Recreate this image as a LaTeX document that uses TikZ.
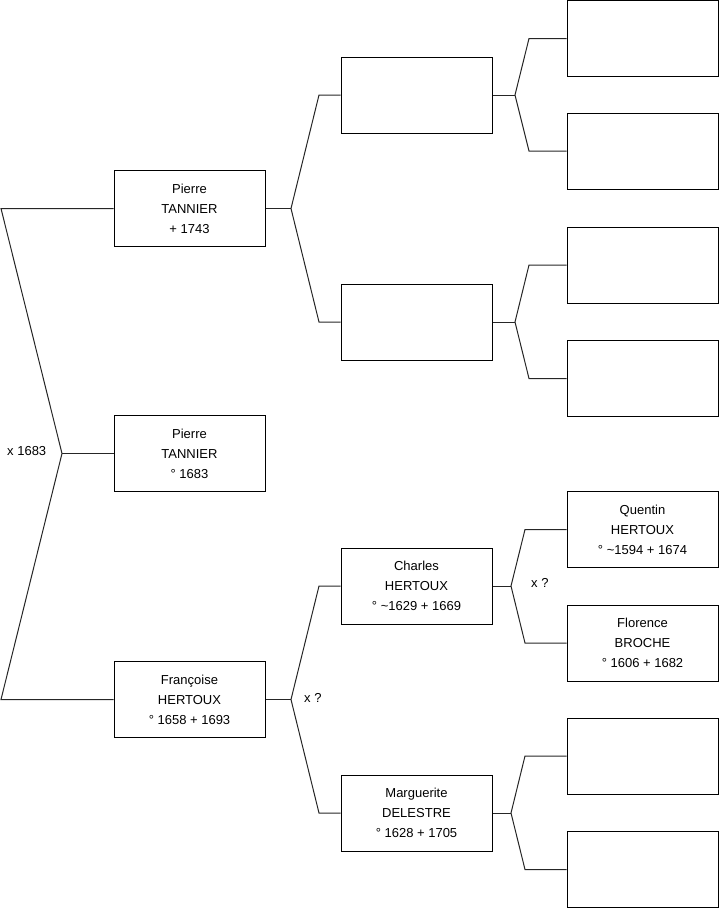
\documentclass[tikz,border=0pt]{standalone}
\usepackage{fontspec}
\setmainfont{Liberation Sans}
\begin{document}
\begin{tikzpicture}[x=1pt,y=-1pt,
  person/.style={draw=black,line width=1pt,rectangle,minimum width=151pt,minimum height=76pt,inner sep=0pt,align=center,font=\fontsize{13}{20}\selectfont},
  link/.style={draw=black!85,line width=1pt,line join=miter},
  lbl/.style={font=\fontsize{13}{16}\selectfont,inner sep=0pt}]
\useasboundingbox (0,0) rectangle (719,908);
% generation 1
\node[person] (a1) at (189.5,208.5) {Pierre\\TANNIER\\+ 1743};
\node[person] (a0) at (189.5,453.5) {Pierre\\TANNIER\\° 1683};
\node[person] (a2) at (189.5,699.5) {Françoise\\HERTOUX\\° 1658 + 1693};
% generation 2
\node[person] (b1) at (416.5,95) {};
\node[person] (b2) at (416.5,322) {};
\node[person] (b3) at (416.5,586) {Charles\\HERTOUX\\° \textasciitilde 1629 + 1669};
\node[person] (b4) at (416.5,813) {Marguerite\\DELESTRE\\° 1628 + 1705};
% generation 3
\node[person] (c1) at (642.5,38.5) {};
\node[person] (c2) at (642.5,151) {};
\node[person] (c3) at (642.5,265) {};
\node[person] (c4) at (642.5,378.5) {};
\node[person] (c5) at (642.5,529.5) {Quentin\\HERTOUX\\° \textasciitilde 1594 + 1674};
\node[person] (c6) at (642.5,643) {Florence\\BROCHE\\° 1606 + 1682};
\node[person] (c7) at (642.5,756) {};
\node[person] (c8) at (642.5,869.5) {};
% junctions
\coordinate (r1) at (1,208.5);
\coordinate (jr) at (62,453.5);
\coordinate (r3) at (1,699.5);
\coordinate (ja1) at (291,208.5);
\coordinate (ka1) at (319,95);
\coordinate (la1) at (319,322);
\coordinate (ja2) at (291,699.5);
\coordinate (ka2) at (319,586);
\coordinate (la2) at (319,813);
\coordinate (jb1) at (515,95);
\coordinate (kb1) at (529,38.5);
\coordinate (lb1) at (529,151);
\coordinate (jb2) at (515,322);
\coordinate (kb2) at (529,265);
\coordinate (lb2) at (529,378.5);
\coordinate (jb3) at (511,586);
\coordinate (kb3) at (525,529.5);
\coordinate (lb3) at (525,643);
\coordinate (jb4) at (511,813);
\coordinate (kb4) at (525,756);
\coordinate (lb4) at (525,869.5);
% connectors
\draw[link] (a1.west) -- (r1) -- (jr) -- (r3) -- (a2.west);
\draw[link] (jr) -- (a0.west);
\draw[link] (a1.east) -- (ja1);
\draw[link] (b1.west) -- (ka1) -- (ja1) -- (la1) -- (b2.west);
\draw[link] (a2.east) -- (ja2);
\draw[link] (b3.west) -- (ka2) -- (ja2) -- (la2) -- (b4.west);
\draw[link] (b1.east) -- (jb1);
\draw[link] (c1.west) -- (kb1) -- (jb1) -- (lb1) -- (c2.west);
\draw[link] (b2.east) -- (jb2);
\draw[link] (c3.west) -- (kb2) -- (jb2) -- (lb2) -- (c4.west);
\draw[link] (b3.east) -- (jb3);
\draw[link] (c5.west) -- (kb3) -- (jb3) -- (lb3) -- (c6.west);
\draw[link] (b4.east) -- (jb4);
\draw[link] (c7.west) -- (kb4) -- (jb4) -- (lb4) -- (c8.west);
% marriage labels
\node[lbl,anchor=west] (m1) at (7,451) {x 1683};
\node[lbl,anchor=west] (m2) at (304,698) {x ?};
\node[lbl,anchor=west] (m3) at (531,583) {x ?};
\end{tikzpicture}
\end{document}
